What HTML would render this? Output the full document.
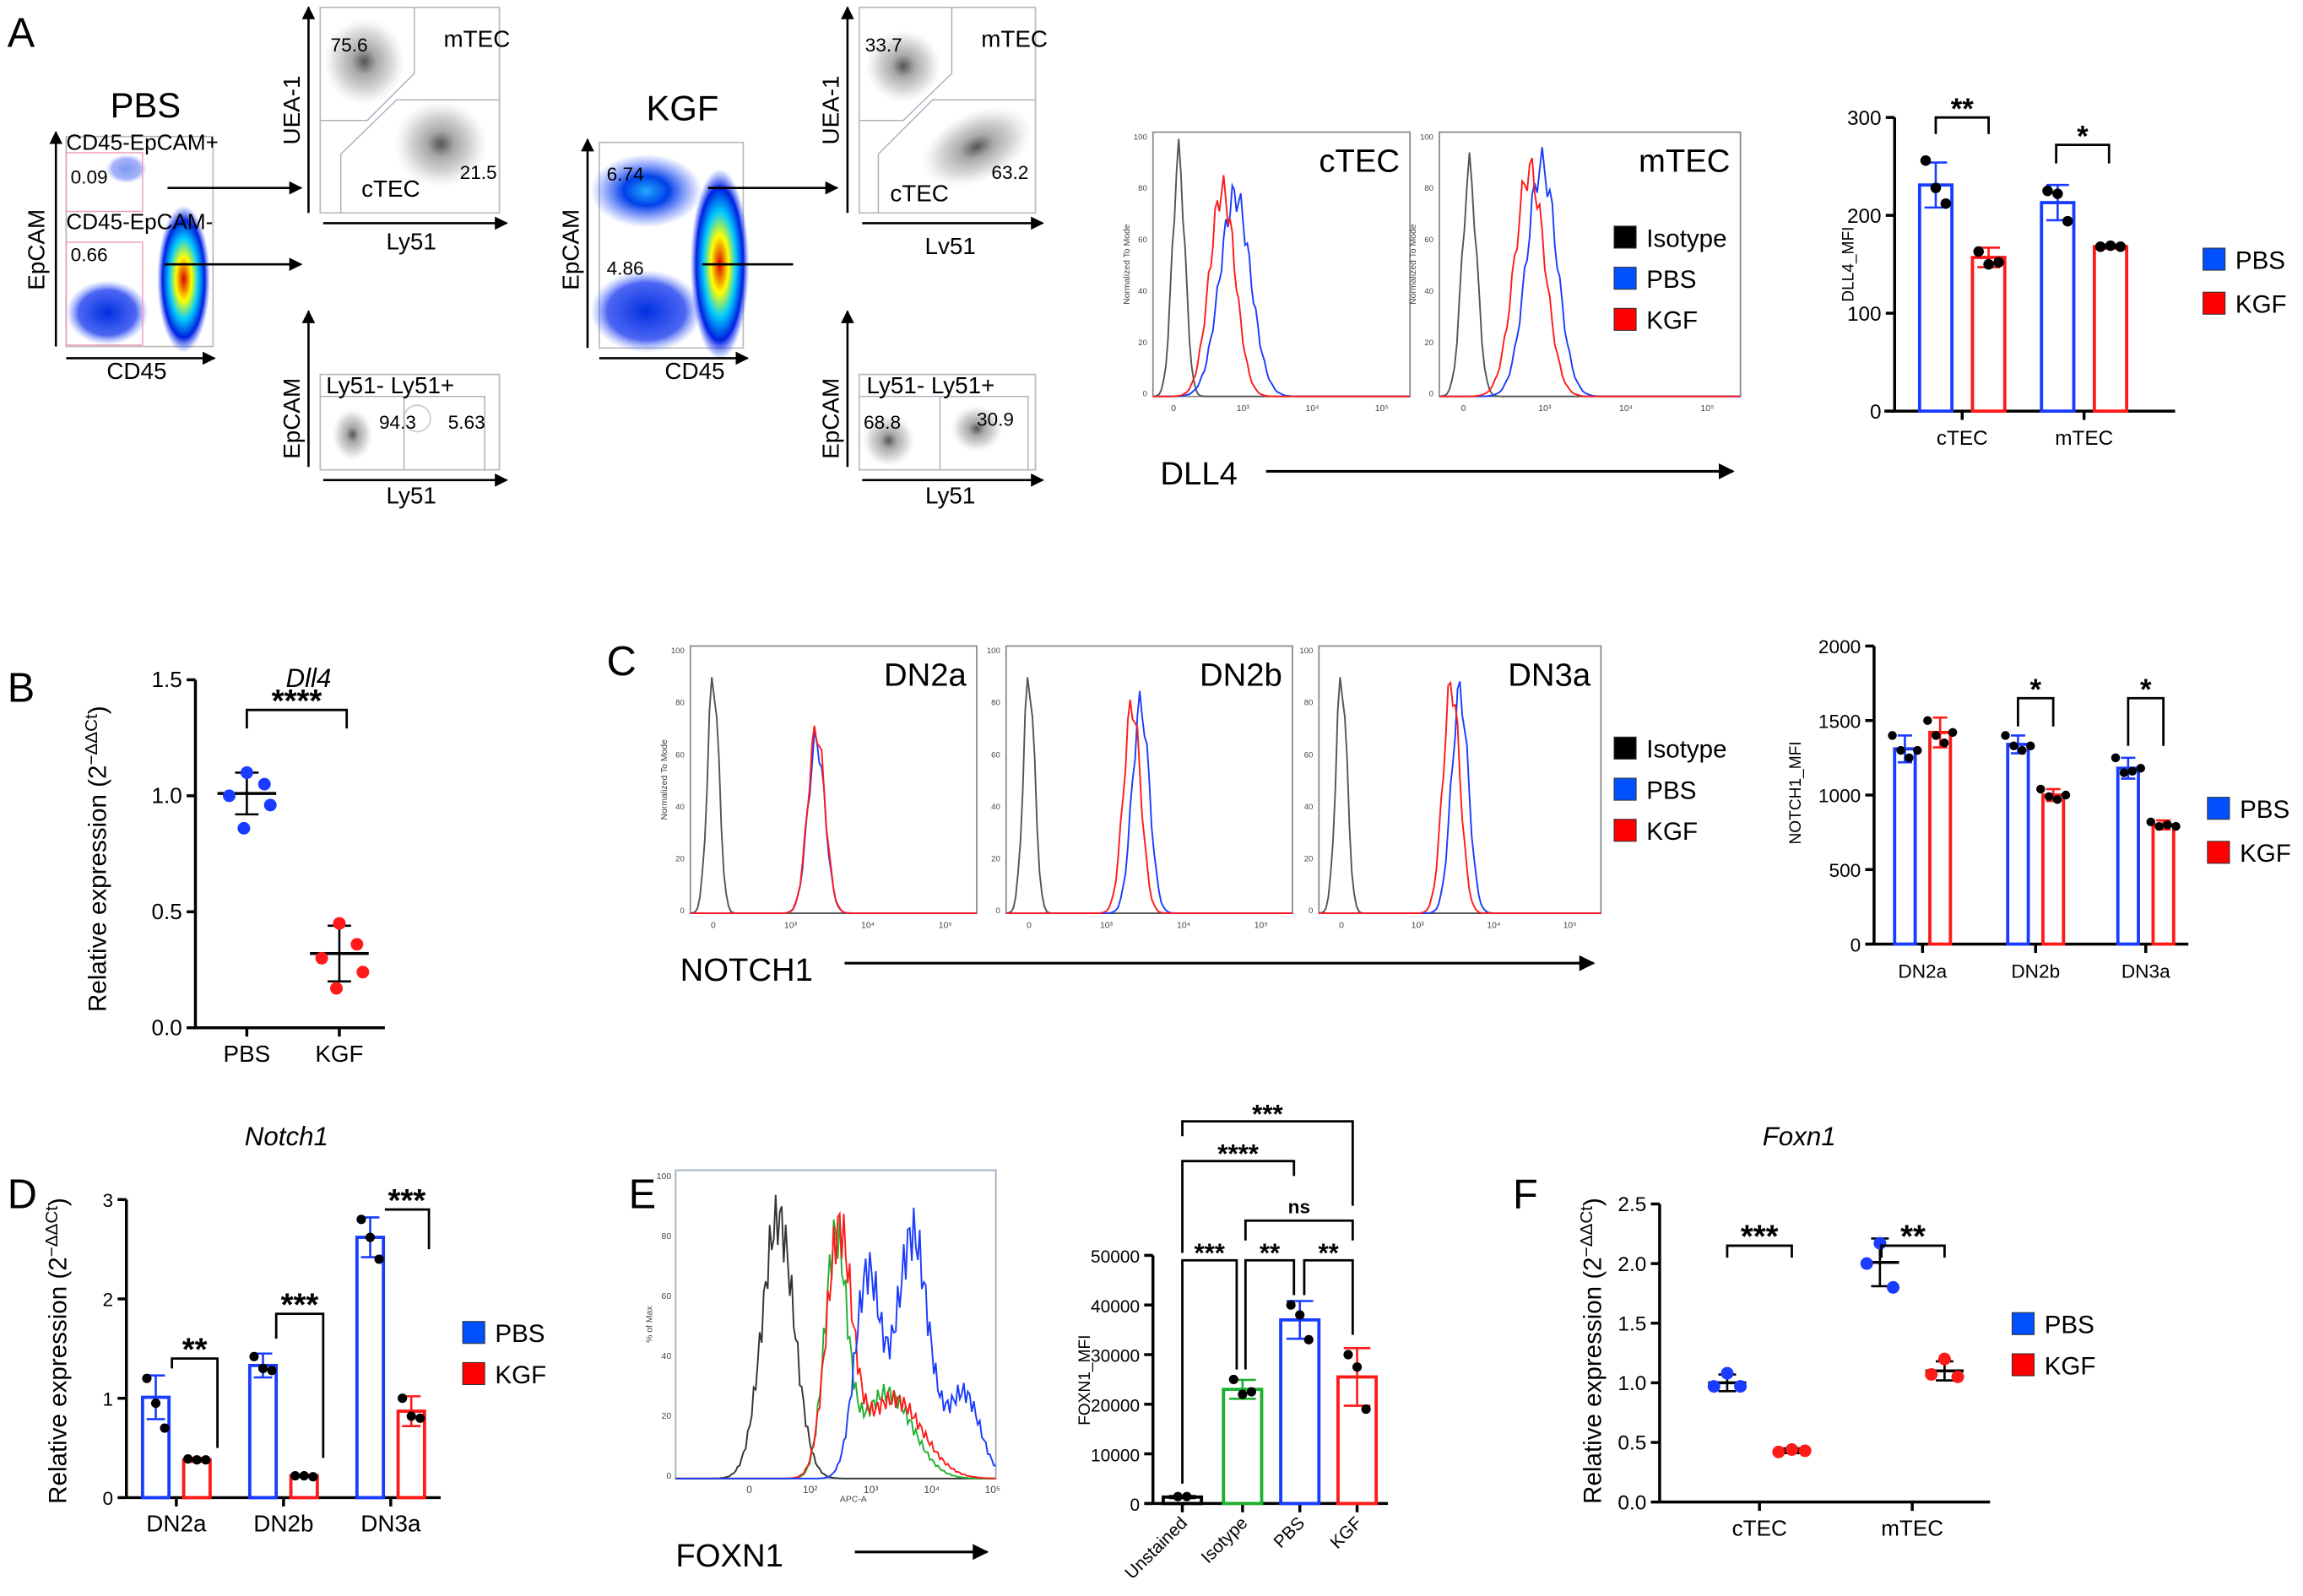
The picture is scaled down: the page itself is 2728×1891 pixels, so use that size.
<!DOCTYPE html>
<html><head><meta charset="utf-8">
<style>
html,body{margin:0;padding:0;background:#fff;}
svg{display:block;font-family:"Liberation Sans",sans-serif;}
</style></head>
<body>
<svg id="fig" width="2728" height="1891" viewBox="0 0 1568 1087" xmlns="http://www.w3.org/2000/svg">
<defs>
<marker id="ah" viewBox="0 0 10 10" refX="9" refY="5" markerWidth="6" markerHeight="6" orient="auto"><path d="M0,0L10,5L0,10z" fill="#000"/></marker>
<radialGradient id="hot" cx="50%" cy="50%" r="50%"><stop offset="0" stop-color="#d00"/><stop offset="0.3" stop-color="#ff0"/><stop offset="0.55" stop-color="#0cf"/><stop offset="0.8" stop-color="#0020e0"/><stop offset="1" stop-color="#3050ff" stop-opacity="0"/></radialGradient>
<radialGradient id="blu" cx="50%" cy="50%" r="50%"><stop offset="0" stop-color="#0030e0"/><stop offset="0.7" stop-color="#2040f0" stop-opacity="0.8"/><stop offset="1" stop-color="#6080ff" stop-opacity="0"/></radialGradient>
<radialGradient id="cyb" cx="50%" cy="50%" r="50%"><stop offset="0" stop-color="#2af"/><stop offset="0.4" stop-color="#0040e8"/><stop offset="1" stop-color="#3050ff" stop-opacity="0"/></radialGradient>
<radialGradient id="gry" cx="50%" cy="50%" r="50%"><stop offset="0" stop-color="#555"/><stop offset="0.3" stop-color="#aaa"/><stop offset="0.7" stop-color="#ddd"/><stop offset="1" stop-color="#eee" stop-opacity="0"/></radialGradient>
</defs>
<g font-size="28">
<text x="5" y="32">A</text>
<text x="5" y="478">B</text>
<text x="413" y="460">C</text>
<text x="5" y="823">D</text>
<text x="428" y="823">E</text>
<text x="1030" y="823">F</text>
</g>

<g>
<text x="75" y="80" font-size="24">PBS</text>
<rect x="45" y="93" width="100" height="143" fill="#fff" stroke="#bbb"/>
<ellipse cx="73" cy="213" rx="28" ry="22" fill="url(#blu)"/>
<ellipse cx="86" cy="115" rx="14" ry="10" fill="url(#blu)" opacity="0.5"/>
<ellipse cx="125" cy="190" rx="18" ry="50" fill="url(#hot)"/>
<rect x="45" y="104" width="52" height="40" fill="none" stroke="#e9b" stroke-width="0.8"/>
<rect x="45" y="165" width="52" height="70" fill="none" stroke="#e9b" stroke-width="0.8"/>
<text x="45" y="102" font-size="15">CD45-EpCAM+</text>
<text x="48" y="125" font-size="13">0.09</text>
<text x="45" y="156" font-size="15">CD45-EpCAM-</text>
<text x="48" y="178" font-size="13">0.66</text>
<line x1="38" y1="236" x2="38" y2="90" stroke="#000" stroke-width="1.5" marker-end="url(#ah)"/>
<line x1="45" y1="244" x2="146" y2="244" stroke="#000" stroke-width="1.5" marker-end="url(#ah)"/>
<text x="30" y="170" font-size="16" transform="rotate(-90 30 170)" text-anchor="middle">EpCAM</text>
<text x="93" y="258" font-size="16" text-anchor="middle">CD45</text>
<line x1="114" y1="128" x2="205" y2="128" stroke="#000" stroke-width="1.5" marker-end="url(#ah)"/>
<line x1="112" y1="180" x2="205" y2="180" stroke="#000" stroke-width="1.5" marker-end="url(#ah)"/>
</g>
<g>
<rect x="218" y="5" width="122" height="140" fill="#fff" stroke="#bbb"/>
<ellipse cx="248" cy="42" rx="28" ry="30" fill="url(#gry)"/>
<ellipse cx="300" cy="98" rx="32" ry="30" fill="url(#gry)"/>
<path d="M218,82H250L282,50V5M232,145V105L270,68H340" fill="none" stroke="#aab" stroke-width="0.8"/>
<text x="225" y="35" font-size="13">75.6</text><text x="302" y="32" font-size="16">mTEC</text>
<text x="246" y="134" font-size="16">cTEC</text><text x="313" y="122" font-size="13">21.5</text>
<line x1="210" y1="145" x2="210" y2="5" stroke="#000" stroke-width="1.5" marker-end="url(#ah)"/>
<line x1="220" y1="152" x2="345" y2="152" stroke="#000" stroke-width="1.5" marker-end="url(#ah)"/>
<text x="204" y="75" font-size="16" transform="rotate(-90 204 75)" text-anchor="middle">UEA-1</text>
<text x="280" y="170" font-size="16" text-anchor="middle">Ly51</text>
</g>
<g>
<rect x="218" y="255" width="122" height="65" fill="#fff" stroke="#bbb"/>
<ellipse cx="240" cy="296" rx="14" ry="18" fill="url(#gry)"/>
<ellipse cx="284" cy="285" rx="9" ry="9" fill="none" stroke="#ccc"/>
<path d="M218,270H275V320M275,270H330V320" fill="none" stroke="#aab" stroke-width="0.8"/>
<text x="222" y="268" font-size="16">Ly51- Ly51+</text>
<text x="258" y="292" font-size="13">94.3</text><text x="305" y="292" font-size="13">5.63</text>
<line x1="210" y1="318" x2="210" y2="212" stroke="#000" stroke-width="1.5" marker-end="url(#ah)"/>
<line x1="220" y1="327" x2="345" y2="327" stroke="#000" stroke-width="1.5" marker-end="url(#ah)"/>
<text x="204" y="285" font-size="16" transform="rotate(-90 204 285)" text-anchor="middle">EpCAM</text>
<text x="280" y="343" font-size="16" text-anchor="middle">Ly51</text>
</g>
<g>
<text x="440" y="82" font-size="24">KGF</text>
<rect x="408" y="97" width="98" height="140" fill="#fff" stroke="#bbb"/>
<ellipse cx="440" cy="130" rx="38" ry="25" fill="url(#cyb)"/>
<ellipse cx="440" cy="212" rx="38" ry="28" fill="url(#blu)"/>
<ellipse cx="490" cy="180" rx="20" ry="65" fill="url(#hot)"/>
<text x="413" y="123" font-size="13">6.74</text><text x="413" y="187" font-size="13">4.86</text>
<line x1="400" y1="237" x2="400" y2="95" stroke="#000" stroke-width="1.5" marker-end="url(#ah)"/>
<line x1="408" y1="244" x2="509" y2="244" stroke="#000" stroke-width="1.5" marker-end="url(#ah)"/>
<text x="394" y="170" font-size="16" transform="rotate(-90 394 170)" text-anchor="middle">EpCAM</text>
<text x="473" y="258" font-size="16" text-anchor="middle">CD45</text>
<line x1="482" y1="128" x2="570" y2="128" stroke="#000" stroke-width="1.5" marker-end="url(#ah)"/>
<line x1="478" y1="180" x2="540" y2="180" stroke="#000" stroke-width="1.5"/>
</g>
<g>
<rect x="585" y="5" width="120" height="140" fill="#fff" stroke="#bbb"/>
<ellipse cx="615" cy="45" rx="26" ry="25" fill="url(#gry)"/>
<ellipse cx="665" cy="100" rx="40" ry="24" fill="url(#gry)" transform="rotate(-25 665 100)"/>
<path d="M585,82H615L648,50V5M598,145V105L635,68H705" fill="none" stroke="#aab" stroke-width="0.8"/>
<text x="589" y="35" font-size="13">33.7</text><text x="668" y="32" font-size="16">mTEC</text>
<text x="606" y="137" font-size="16">cTEC</text><text x="675" y="122" font-size="13">63.2</text>
<line x1="577" y1="145" x2="577" y2="5" stroke="#000" stroke-width="1.5" marker-end="url(#ah)"/>
<line x1="587" y1="152" x2="710" y2="152" stroke="#000" stroke-width="1.5" marker-end="url(#ah)"/>
<text x="571" y="75" font-size="16" transform="rotate(-90 571 75)" text-anchor="middle">UEA-1</text>
<text x="647" y="173" font-size="16" text-anchor="middle">Lv51</text>
</g>
<g>
<rect x="585" y="255" width="120" height="65" fill="#fff" stroke="#bbb"/>
<ellipse cx="605" cy="300" rx="18" ry="18" fill="url(#gry)"/>
<ellipse cx="665" cy="292" rx="18" ry="16" fill="url(#gry)"/>
<path d="M585,270H640V320M640,270H700V320" fill="none" stroke="#aab" stroke-width="0.8"/>
<text x="590" y="268" font-size="16">Ly51- Ly51+</text>
<text x="588" y="292" font-size="13">68.8</text><text x="665" y="290" font-size="13">30.9</text>
<line x1="577" y1="318" x2="577" y2="212" stroke="#000" stroke-width="1.5" marker-end="url(#ah)"/>
<line x1="587" y1="327" x2="710" y2="327" stroke="#000" stroke-width="1.5" marker-end="url(#ah)"/>
<text x="571" y="285" font-size="16" transform="rotate(-90 571 285)" text-anchor="middle">EpCAM</text>
<text x="647" y="343" font-size="16" text-anchor="middle">Ly51</text>
</g>

<g id="hists"></g>
<g id="charts"></g>

<text x="790" y="330" font-size="22">DLL4</text>
<line x1="862" y1="321" x2="1180" y2="321" stroke="#000" stroke-width="1.8" marker-end="url(#ah)"/>
<text x="463" y="668" font-size="22">NOTCH1</text>
<line x1="575" y1="656" x2="1085" y2="656" stroke="#000" stroke-width="1.8" marker-end="url(#ah)"/>
<text x="460" y="1067" font-size="22">FOXN1</text>
<line x1="582" y1="1057" x2="672" y2="1057" stroke="#000" stroke-width="1.8" marker-end="url(#ah)"/>

<script>
const NS="http://www.w3.org/2000/svg";
const aCats=["cTEC","mTEC"];
const aPBS=[231,213]; const aKGF=[157,168];
const aPBSsd=[23,18]; const aKGFsd=[10,2];
const aPBSpts=[[256,228,212],[225,222,194]]; const aKGFpts=[[163,150,152],[168,169,168]];
const aTicks=[0,100,200,300];

const bCats=["PBS","KGF"];
const bMean=[1.01,0.32]; const bSD=[0.09,0.12];
const bPts=[[1.10,1.05,1.00,0.96,0.86],[0.45,0.36,0.30,0.24,0.17]];
const bTicks=[0,0.5,1.0,1.5];

const cCats=["DN2a","DN2b","DN3a"];
const cPBS=[1310,1340,1180]; const cKGF=[1420,1000,800];
const cPBSsd=[90,60,70]; const cKGFsd=[100,40,30];
const cPBSpts=[[1400,1300,1250,1300],[1400,1330,1300,1330],[1250,1150,1160,1180]];
const cKGFpts=[[1500,1400,1350,1420],[1040,990,970,1000],[820,790,800,790]];
const cTicks=[0,500,1000,1500,2000];

const dCats=["DN2a","DN2b","DN3a"];
const dPBS=[1.01,1.33,2.62]; const dKGF=[0.38,0.22,0.87];
const dPBSsd=[0.22,0.12,0.2]; const dKGFsd=[0.02,0.01,0.15];
const dPBSpts=[[1.2,0.95,0.7],[1.42,1.3,1.28],[2.8,2.62,2.4]];
const dKGFpts=[[0.39,0.38,0.38],[0.22,0.22,0.21],[1.0,0.82,0.8]];
const dTicks=[0,1,2,3];

const eCats=["Unstained","Isotype","PBS","KGF"];
const eVals=[1300,23000,37000,25500];
const eSD=[200,1900,3800,5800];
const ePts=[[1400,1400],[25000,22000,22500],[40000,38000,33000],[30000,27500,19000]];
const eTicks=[0,10000,20000,30000,40000,50000];

const fCats=["cTEC","mTEC"];
const fPBS=[1.0,2.01]; const fKGF=[0.43,1.1];
const fPBSsd=[0.07,0.2]; const fKGFsd=[0.02,0.08];
const fPBSpts=[[1.08,0.97,0.97],[2.17,2.0,1.8]];
const fKGFpts=[[0.44,0.42,0.43],[1.2,1.07,1.05]];
const fTicks=[0,0.5,1.0,1.5,2.0,2.5];

const hDLL4c=[[0.1,0.95,0.025],[0.32,0.8,0.06],[0.27,0.82,0.05]];
const hDLL4m=[[0.1,0.9,0.025],[0.34,0.92,0.05],[0.3,0.9,0.05]];
const hN2a=[[0.08,0.93,0.02],[0.44,0.68,0.03],[0.44,0.72,0.03]];
const hN2b=[[0.08,0.93,0.02],[0.47,0.82,0.03],[0.44,0.82,0.03]];
const hN3a=[[0.08,0.93,0.02],[0.5,0.87,0.03],[0.47,0.9,0.03]];

const BLUE="#1a3cff", RED="#ff1a1a", GREEN="#1fb030";
const charts=document.getElementById("charts");
const hists=document.getElementById("hists");

function mk(tag,attrs,parent){const e=document.createElementNS(NS,tag);for(const k in attrs)e.setAttribute(k,attrs[k]);parent.appendChild(e);return e;}
function txt(s,attrs,parent){const e=mk("text",attrs,parent);e.textContent=s;return e;}

function yAxis(g,x,y0,y1,ticks,max,fmt,fs){
  const sc=v=>y0-(v/max)*(y0-y1);
  const ax=mk("line",{x1:x,y1:y0,x2:x,y2:y1,stroke:"#000","stroke-width":2},g);
  
  
  ticks.forEach(t=>{
    const tl=mk("line",{x1:x-6,y1:sc(t),x2:x,y2:sc(t),stroke:"#000","stroke-width":2},g);
    
    
    const lb=txt(fmt(t),{x:x-9,y:sc(t)+5,"font-size":fs,"text-anchor":"end"},g);
    
    
  });
  return sc;
}
function xAxis(g,x0,x1,y,centers,labels,fs,rot){
  const ax=mk("line",{x1:x0,y1:y,x2:x1,y2:y,stroke:"#000","stroke-width":2},g);
  
  
  centers.forEach((c,i)=>{
    const tl=mk("line",{x1:c,y1:y,x2:c,y2:y+6,stroke:"#000","stroke-width":2},g);
    
    
    let lb;
    if(rot){lb=txt(labels[i],{x:c+4,y:y+14,"font-size":fs,"text-anchor":"end",transform:`rotate(-45 ${c+4} ${y+14})`},g);}
    else lb=txt(labels[i],{x:c,y:y+23,"font-size":fs,"text-anchor":"middle"},g);
    
    
  });
}
function bar(g,cx,w,val,sd,pts,sc,col,r){
  const y0=sc(0);
  const b=mk("rect",{x:cx-w/2,y:sc(val),width:w,height:y0-sc(val),fill:"#fff",stroke:col,"stroke-width":2.2},g);
  
  
  errbar(g,cx,val,sd,sc,col,w*0.35);
  dots(g,cx,pts,sc,"#000",r);
}
function errbar(g,cx,val,sd,sc,col,hw){
  const e=mk("path",{d:`M${cx},${sc(val-sd)}V${sc(val+sd)}M${cx-hw},${sc(val+sd)}H${cx+hw}M${cx-hw},${sc(val-sd)}H${cx+hw}`,stroke:col,"stroke-width":1.5,fill:"none"},g);
  
  
}
function dots(g,cx,pts,sc,col,r){
  const n=pts.length;
  pts.forEach((v,i)=>{
    const off=(n===1?0:(i-(n-1)/2)*r*1.9);
    const d=mk("circle",{cx:cx+off,cy:sc(v),r:r,fill:col},g);
    
    
  });
}
function bracket(g,x1,x2,yTop,yl,yr,label,fs){
  const p=mk("path",{d:`M${x1},${yl}V${yTop}H${x2}V${yr}`,stroke:"#000","stroke-width":1.6,fill:"none"},g);
  
  
  const t=txt(label,{x:(x1+x2)/2,y:yTop-5+(label==="ns"?0:6),"font-size":fs,"font-weight":"bold","text-anchor":"middle"},g);
  
  
}
function legend(g,x,y,items,fs,gap){
  items.forEach((it,i)=>{
    const r=mk("rect",{x:x,y:y+i*gap-13,width:15,height:15,fill:it[1],stroke:"#333","stroke-width":0.6},g);
    
    
    const t=txt(it[0],{x:x+22,y:y+i*gap+1,"font-size":fs},g);
    
    
  });
}
function ytitle(g,x,y,s,fs){
  const t=txt(s,{x:x,y:y,"font-size":fs,"text-anchor":"middle",transform:`rotate(-90 ${x} ${y})`},g);
  
  
}
function ddct(g,x,y,fs){
  const t=mk("text",{x:x,y:y,"font-size":fs,"text-anchor":"middle",transform:`rotate(-90 ${x} ${y})`},g);
  
  
  const s1=document.createElementNS(NS,"tspan");s1.textContent="Relative expression (2";t.appendChild(s1);
  const s2=document.createElementNS(NS,"tspan");s2.setAttribute("dy","-6");s2.setAttribute("font-size",fs*0.7);s2.textContent="−ΔΔCt";t.appendChild(s2);
  const s3=document.createElementNS(NS,"tspan");s3.setAttribute("dy","6");s3.textContent=")";t.appendChild(s3);
}
function title(g,x,y,s,fs){
  const t=txt(s,{x:x,y:y,"font-size":fs,"font-style":"italic","text-anchor":"middle"},g);
  
  
}

{const g=mk("g",{},charts);


const sc=yAxis(g,1290,280,80,aTicks,300,t=>t,14);
const centers=[1336,1419];
xAxis(g,1283,1481,280,centers,aCats,14);
aCats.forEach((c,i)=>{
  bar(g,centers[i]-18,22,aPBS[i],aPBSsd[i],aPBSpts[i],sc,BLUE,3.6);
  bar(g,centers[i]+18,22,aKGF[i],aKGFsd[i],aKGFpts[i],sc,RED,3.6);
});
bracket(g,1318,1354,sc(300),sc(283),sc(283),"**",20);
bracket(g,1400,1436,sc(272),sc(253),sc(253),"*",20);
ytitle(g,1262,180,"DLL4_MFI",11);
legend(g,1500,182,[["PBS","#0050ff"],["KGF","#f00"]],17,30);}

{const g=mk("g",{},charts);


const sc=yAxis(g,133,700,463,bTicks,1.5,t=>t.toFixed(1),15);
const centers=[168,231];
xAxis(g,133,262,700,centers,bCats,16);
const cols=[BLUE,RED];
bCats.forEach((c,i)=>{
  const m=mk("line",{x1:centers[i]-20,y1:sc(bMean[i]),x2:centers[i]+20,y2:sc(bMean[i]),stroke:"#000","stroke-width":2},g);
  
  
  errbar(g,centers[i],bMean[i],bSD[i],sc,"#000",8);
  bPts[i].forEach((v,j)=>{
    const off=[0,12,-12,16,-2][j];
    const d=mk("circle",{cx:centers[i]+off,cy:sc(v),r:4.3,fill:cols[i]},g);
    
    
  });
});
bracket(g,168,236,sc(1.37),sc(1.29),sc(1.29),"****",22);
title(g,210,468,"Dll4",18);
ddct(g,72,585,17);}

{const g=mk("g",{},charts);


const sc=yAxis(g,1276,643,440,cTicks,2000,t=>t,13);
const centers=[1309,1386,1461];
xAxis(g,1270,1490,643,centers,cCats,13);
cCats.forEach((c,i)=>{
  bar(g,centers[i]-12,14,cPBS[i],cPBSsd[i],cPBSpts[i],sc,BLUE,3);
  bar(g,centers[i]+12,14,cKGF[i],cKGFsd[i],cKGFpts[i],sc,RED,3);
});
bracket(g,1374,1398,sc(1650),sc(1460),sc(1460),"*",20);
bracket(g,1449,1473,sc(1650),sc(1330),sc(1330),"*",20);
ytitle(g,1226,540,"NOTCH1_MFI",11);
legend(g,1503,556,[["PBS","#0050ff"],["KGF","#f00"]],17,30);}

{const g=mk("g",{},charts);


const sc=yAxis(g,86,1020,817,dTicks,3,t=>t,13);
const centers=[120,193,266];
xAxis(g,86,300,1020,centers,dCats,16);
dCats.forEach((c,i)=>{
  bar(g,centers[i]-14,18,dPBS[i],dPBSsd[i],dPBSpts[i],sc,BLUE,3.2);
  bar(g,centers[i]+14,18,dKGF[i],dKGFsd[i],dKGFpts[i],sc,RED,3.2);
});
bracket(g,117,148,sc(1.4),sc(1.3),sc(0.5),"**",22);
bracket(g,188,220,sc(1.85),sc(1.6),sc(0.4),"***",22);
bracket(g,262,292,sc(2.9),sc(2.9),sc(2.5),"***",22);
title(g,195,780,"Notch1",18);
ddct(g,45,920,17);
legend(g,315,913,[["PBS","#0050ff"],["KGF","#f00"]],17,28);}

{const g=mk("g",{},charts);


const sc=yAxis(g,785,1024,855,eTicks,50000,t=>t,12);
const centers=[805,846,885,924];
xAxis(g,780,945,1024,centers,eCats,12,true);
const cols=["#000",GREEN,BLUE,RED];
eCats.forEach((c,i)=>{
  bar(g,centers[i],26,eVals[i],eSD[i],ePts[i],sc,cols[i],3.2);
});
bracket(g,805,842,sc(49000),sc(4000),sc(27000),"***",18);
bracket(g,848,881,sc(49000),sc(27000),sc(42000),"**",18);
bracket(g,888,921,sc(49000),sc(42000),sc(34000),"**",18);
bracket(g,848,921,sc(57000),sc(53000),sc(53000),"ns",13);
bracket(g,805,881,sc(69000),sc(50500),sc(66000),"****",18);
bracket(g,805,921,sc(77000),sc(74000),sc(60000),"***",18);
ytitle(g,742,940,"FOXN1_MFI",11);}

{const g=mk("g",{},charts);


const sc=yAxis(g,1130,1023,820,fTicks,2.5,t=>t.toFixed(1),14);
const centers=[1198,1302];
xAxis(g,1130,1355,1023,centers,fCats,15);
const cols=[BLUE,RED];
fCats.forEach((c,i)=>{
  [[fPBS,fPBSsd,fPBSpts,-22],[fKGF,fKGFsd,fKGFpts,22]].forEach((s,k)=>{
    const cx=centers[i]+s[3];
    const m=mk("line",{x1:cx-13,y1:sc(s[0][i]),x2:cx+13,y2:sc(s[0][i]),stroke:"#000","stroke-width":2},g);
    
    
    errbar(g,cx,s[0][i],s[1][i],sc,"#000",6);
    s[2][i].forEach((v,j)=>{
      const off=[0,-9,9][j];
      const d=mk("circle",{cx:cx+off,cy:sc(v),r:4.3,fill:cols[k]},g);
      
      
    });
  });
});
bracket(g,1176,1220,sc(2.15),sc(2.05),sc(2.05),"***",22);
bracket(g,1281,1324,sc(2.15),sc(2.05),sc(2.05),"**",22);
title(g,1225,780,"Foxn1",18);
ddct(g,1090,920,17);
legend(g,1370,907,[["PBS","#0050ff"],["KGF","#f00"]],17,28);}

function hist(x,y,w,h,peaks,label,name,axisStyle){
  const g=mk("g",{},hists);
  
  
  const fr=mk("rect",{x:x,y:y,width:w,height:h,fill:"#fff",stroke:"#888","stroke-width":1},g);
  
  
  const cols=["#555",BLUE,RED];
  peaks.forEach((p,k)=>{
    let d="";
    for(let i=0;i<=120;i++){const f=i/120;const z=(f-p[0])/p[2];const v=p[1]*Math.exp(-z*z/2)*(1+0.08*Math.sin(i*1.7+k));
      d+=(i?"L":"M")+(x+f*w).toFixed(1)+","+(y+h-v*h*0.95).toFixed(1);}
    const pa=mk("path",{d:d,fill:"none",stroke:cols[k],"stroke-width":1.1},g);
    
    
  });
  if(label){const t=txt(label,{x:x+w-7,y:y+27,"font-size":22,"text-anchor":"end"},g);
  
  }
  ["0","10³","10⁴","10⁵"].forEach((s,i)=>{
    const xx=x+w*(0.08+i*0.27);
    const t=txt(s,{x:xx,y:y+h+10,"font-size":6,"text-anchor":"middle",fill:"#444"},g);
    
    
  });
  ["100","80","60","40","20","0"].forEach((s,i)=>{
    const t=txt(s,{x:x-4,y:y+5+i*(h-5)/5,"font-size":5.5,"text-anchor":"end",fill:"#444"},g);
    
    
  });
  if(axisStyle){const t=txt("Normalized To Mode",{x:x-16,y:y+h/2,"font-size":6,"text-anchor":"middle",transform:`rotate(-90 ${x-16} ${y+h/2})`,fill:"#444"},g);
  
  }
}
hist(785,90,175,180,hDLL4c,"cTEC","dll4-ctec-histogram",true);
hist(980,90,205,180,hDLL4m,"mTEC","dll4-mtec-histogram",true);
hist(470,440,195,182,hN2a,"DN2a","notch1-dn2a-histogram",true);
hist(685,440,195,182,hN2b,"DN2b","notch1-dn2b-histogram",false);
hist(898,440,192,182,hN3a,"DN3a","notch1-dn3a-histogram",false);
{const lg=mk("g",{},hists);


legend(lg,1099,167,[["Isotype","#000"],["PBS","#0050ff"],["KGF","#f00"]],17,28);}
{const lg=mk("g",{},hists);


legend(lg,1099,515,[["Isotype","#000"],["PBS","#0050ff"],["KGF","#f00"]],17,28);}
{const g=mk("g",{},hists);


const x=460,y=797,w=218,h=210;
const fr=mk("rect",{x:x,y:y,width:w,height:h,fill:"#fff",stroke:"#9ab","stroke-width":1},g);


const fox=[[["#333"],[[0.32,0.92,0.05]]],[[GREEN],[[0.5,0.82,0.035],[0.66,0.3,0.08]]],[[RED],[[0.51,0.84,0.04],[0.68,0.28,0.09]]],[[BLUE],[[0.6,0.72,0.04],[0.74,0.86,0.05],[0.9,0.3,0.05]]]];
fox.forEach((s,k)=>{let d="";
  for(let i=0;i<=160;i++){const f=i/160;let v=0;s[1].forEach(p=>{const z=(f-p[0])/p[2];v+=p[1]*Math.exp(-z*z/2);});
    v*=1+0.12*Math.sin(i*2.3+k*1.3);d+=(i?"L":"M")+(x+f*w).toFixed(1)+","+(y+h-Math.min(v,1)*h*0.92).toFixed(1);}
  const pa=mk("path",{d:d,fill:"none",stroke:s[0][0],"stroke-width":1.1},g);
  
  });
["0","10²","10³","10⁴","10⁵"].forEach((s,i)=>{const t=txt(s,{x:x+w*(0.23+i*0.19),y:y+h+10,"font-size":7,"text-anchor":"middle",fill:"#444"},g);

});
const at=txt("APC-A",{x:x+w/2+12,y:y+h+16,"font-size":6,"text-anchor":"middle",fill:"#444"},g);


["100","80","60","40","20","0"].forEach((s,i)=>{const t=txt(s,{x:x-3,y:y+6+i*(h-6)/5,"font-size":6,"text-anchor":"end",fill:"#444"},g);

});
const yt=txt("% of Max",{x:x-16,y:y+h/2,"font-size":6,"text-anchor":"middle",transform:`rotate(-90 ${x-16} ${y+h/2})`,fill:"#444"},g);

}
</script>
</svg>
</body></html>
